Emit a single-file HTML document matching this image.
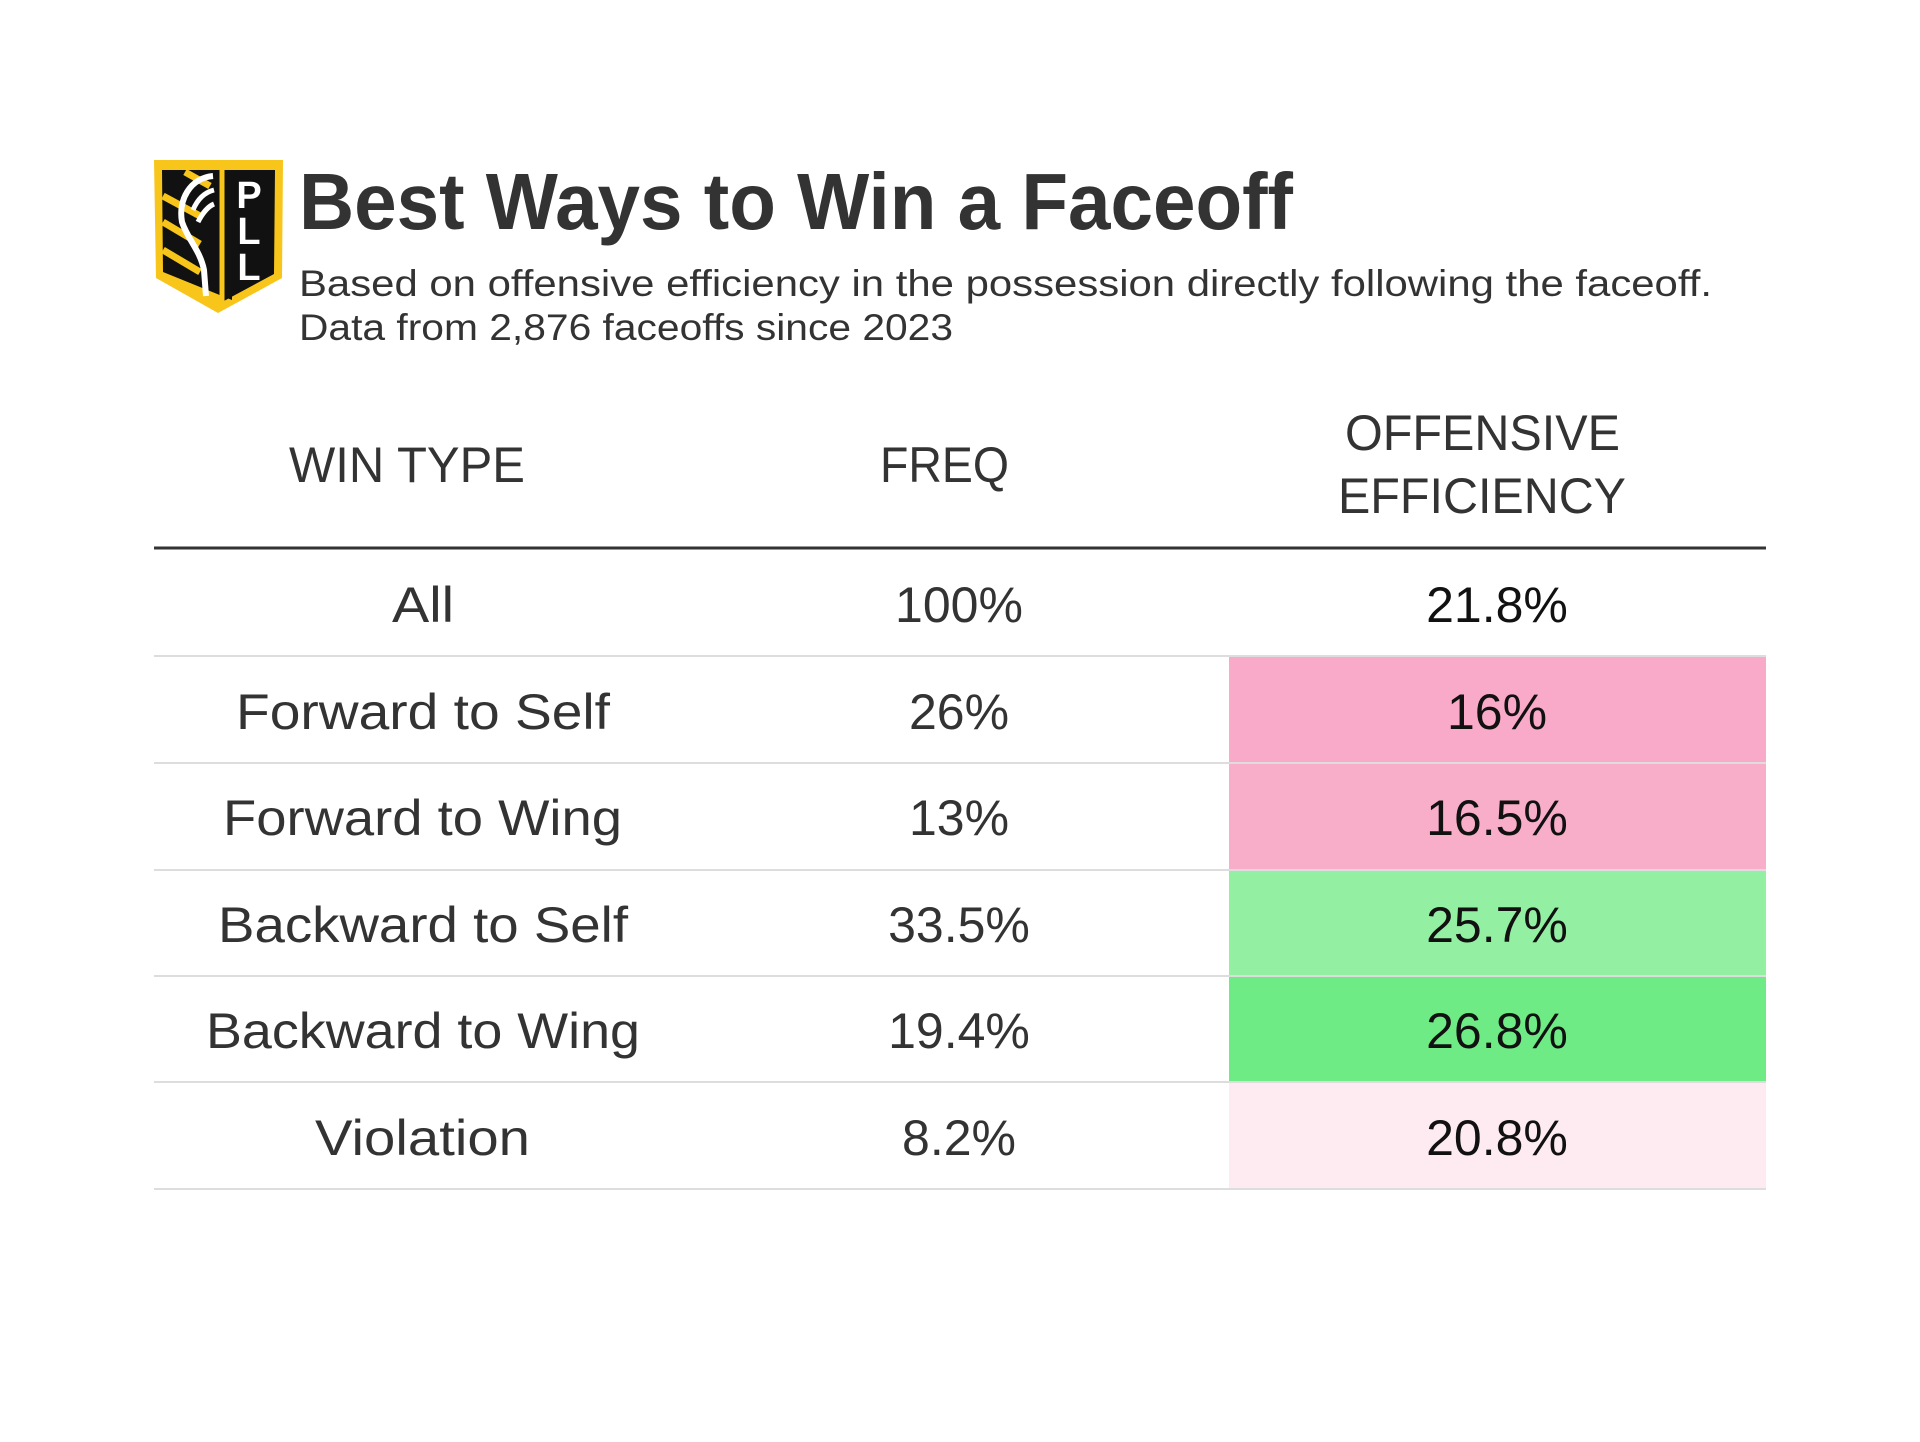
<!DOCTYPE html>
<html><head><meta charset="utf-8"><style>
html,body{margin:0;padding:0;background:#fff;}
svg{display:block}
text{font-family:"Liberation Sans",sans-serif;}
</style></head><body>
<svg width="1920" height="1442" viewBox="0 0 1920 1442" xmlns="http://www.w3.org/2000/svg">
<rect width="1920" height="1442" fill="#fff"/>
<!-- logo -->
<g>
<path d="M154,160 L283,160 L282,278 L218,313 L156,278 Z" fill="#f8c51a"/>
<path d="M162,170 L232,170 L232,300 L163,272 Z" fill="#111"/>
<path d="M222,170 L275,170 L274,274 L222,302 Z" fill="#111"/>
<g stroke="#f8c51a" stroke-width="7">
<line x1="163" y1="196" x2="200" y2="216"/>
<line x1="163" y1="222" x2="200" y2="244"/>
<line x1="163" y1="250" x2="200" y2="272"/>
<line x1="185" y1="172" x2="210" y2="186"/>
</g>
<line x1="222" y1="168" x2="222" y2="304" stroke="#f8c51a" stroke-width="5"/>
<path d="M213,176 C190,178 178,200 182,222 C188,240 200,250 204,270 L206,296" stroke="#fff" stroke-width="6" fill="none"/>
<path d="M193,210 C198,198 206,192 214,190" stroke="#fff" stroke-width="5" fill="none"/>
<path d="M198,222 C203,212 209,206 214,204" stroke="#fff" stroke-width="5" fill="none"/>
<text x="249" y="208" font-size="38" font-weight="bold" fill="#fff" text-anchor="middle">P</text>
<text x="249" y="244" font-size="38" font-weight="bold" fill="#fff" text-anchor="middle">L</text>
<text x="249" y="280" font-size="38" font-weight="bold" fill="#fff" text-anchor="middle">L</text>
</g>
<!-- title -->
<text x="299" y="229" font-size="80" font-weight="bold" fill="#333" textLength="994" lengthAdjust="spacingAndGlyphs">Best Ways to Win a Faceoff</text>
<text x="299" y="296" font-size="37" fill="#333" textLength="1413" lengthAdjust="spacingAndGlyphs">Based on offensive efficiency in the possession directly following the faceoff.</text>
<text x="299" y="340" font-size="37" fill="#333" textLength="654" lengthAdjust="spacingAndGlyphs">Data from 2,876 faceoffs since 2023</text>
<!-- header -->
<g font-size="50" fill="#333">
<text x="289" y="482" textLength="236" lengthAdjust="spacingAndGlyphs">WIN TYPE</text>
<text x="880" y="482" textLength="129" lengthAdjust="spacingAndGlyphs">FREQ</text>
<text x="1345" y="450" textLength="275" lengthAdjust="spacingAndGlyphs">OFFENSIVE</text>
<text x="1338" y="513" textLength="288" lengthAdjust="spacingAndGlyphs">EFFICIENCY</text>
</g>
<!-- cell bg -->
<rect x="1229" y="657" width="537" height="106" fill="#f8aac8"/>
<rect x="1229" y="764" width="537" height="106" fill="#f8aec8"/>
<rect x="1229" y="870" width="537" height="106" fill="#93f0a3"/>
<rect x="1229" y="977" width="537" height="105" fill="#6eeb85"/>
<rect x="1229" y="1083" width="537" height="106" fill="#fdebf1"/>
<line x1="154" y1="548" x2="1766" y2="548" stroke="#333" stroke-width="3"/>
<g stroke="#ddd" stroke-width="2">
<line x1="154" y1="656" x2="1766" y2="656"/>
<line x1="154" y1="763" x2="1766" y2="763"/>
<line x1="154" y1="870" x2="1766" y2="870"/>
<line x1="154" y1="976" x2="1766" y2="976"/>
<line x1="154" y1="1082" x2="1766" y2="1082"/>
<line x1="154" y1="1189" x2="1766" y2="1189"/>
</g>
<g font-size="50" fill="#333">
<text x="392" y="622" textLength="62" lengthAdjust="spacingAndGlyphs">All</text>
<text x="236" y="729" textLength="374" lengthAdjust="spacingAndGlyphs">Forward to Self</text>
<text x="223" y="835" textLength="399" lengthAdjust="spacingAndGlyphs">Forward to Wing</text>
<text x="218" y="942" textLength="410" lengthAdjust="spacingAndGlyphs">Backward to Self</text>
<text x="206" y="1048" textLength="434" lengthAdjust="spacingAndGlyphs">Backward to Wing</text>
<text x="315" y="1155" textLength="215" lengthAdjust="spacingAndGlyphs">Violation</text>
</g>
<g font-size="50" fill="#333" text-anchor="middle">
<text x="959" y="622">100%</text>
<text x="959" y="729">26%</text>
<text x="959" y="835">13%</text>
<text x="959" y="942">33.5%</text>
<text x="959" y="1048">19.4%</text>
<text x="959" y="1155">8.2%</text>
</g>
<g font-size="50" fill="#111" text-anchor="middle">
<text x="1497" y="622">21.8%</text>
<text x="1497" y="729">16%</text>
<text x="1497" y="835">16.5%</text>
<text x="1497" y="942">25.7%</text>
<text x="1497" y="1048">26.8%</text>
<text x="1497" y="1155">20.8%</text>
</g>
</svg>
</body></html>
